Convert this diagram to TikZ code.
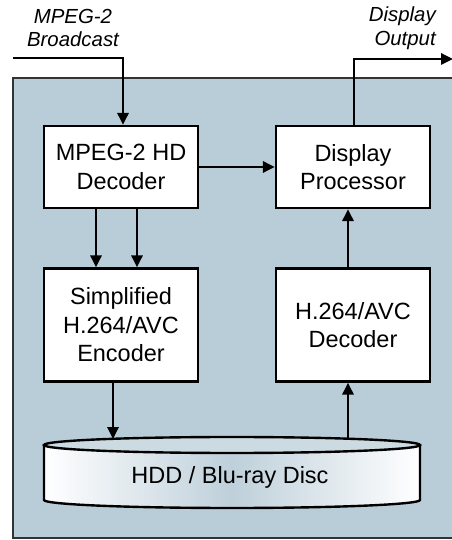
\documentclass[tikz,border=0pt]{standalone}
\usepackage{fontspec}
\setmainfont{Liberation Sans}
\usepackage{tikz}
\usetikzlibrary{positioning}
\usetikzlibrary{arrows.meta}
\usetikzlibrary{calc}
\definecolor{panelblue}{RGB}{185,205,216}
\definecolor{disctop}{RGB}{204,218,226}
\definecolor{discmid}{RGB}{190,208,218}
\tikzstyle{block}=[rectangle,draw=black,fill=white,line width=1.7pt,align=center,minimum width=3.85cm,inner sep=0pt,font=\fontsize{16.7}{20.3}\selectfont]
\tikzstyle{flow}=[draw,line width=1.7pt,-{Triangle[length=8.5pt,width=8pt]}]
\tikzstyle{tag}=[align=center,inner sep=0pt,font=\fontsize{14.5}{17}\selectfont\itshape]

\begin{document}
\begin{tikzpicture}[x=0.025cm,y=0.025cm]
    \useasboundingbox (0,0) rectangle (452,540);
    % the blue panel behind everything
    \fill[panelblue] (13,2) rectangle (452,462);
    \draw[line width=1pt,black!80] (453,462) -- (13,462) -- (13,2) -- (453,2);

    % First we draw the blocks
    \foreach \pos/\name/\text in {{(121,373)/mpeg/{MPEG-2 HD\\Decoder}}, {(353,373)/disp/{Display\\Processor}}}
        \node[block,minimum height=2.05cm] (\name) at \pos {\text};
    \foreach \pos/\name/\text in {{(121,215)/enc/{Simplified\\H.264/AVC\\Encoder}}, {(353,215)/dec/{H.264/AVC\\Decoder}}}
        \node[block,minimum height=2.825cm] (\name) at \pos {\text};

    % the disc, drawn by hand
    \shade[left color=white,right color=white,middle color=discmid]
        (44,95) -- (44,40) arc[start angle=180,end angle=360,x radius=188,y radius=8]
        -- (420,95) arc[start angle=0,end angle=180,x radius=188,y radius=8] -- cycle;
    \draw[line width=1.7pt]
        (44,95) -- (44,40) arc[start angle=180,end angle=360,x radius=188,y radius=8] -- (420,95);
    \filldraw[fill=disctop,line width=1.7pt] (232,95) ellipse[x radius=188,y radius=8];
    \node[inner sep=0pt,font=\fontsize{16.7}{20.3}\selectfont] (disc) at (230,63) {HDD / Blu-ray Disc};
    \coordinate (discin) at (113,101);
    \coordinate (discout) at (348,101);

    % outside labels
    \node[tag] (bcasttxt) at (73,512) {MPEG-2\\Broadcast};
    \node[tag,align=right,anchor=east] (outtxt) at (436,512) {Display\\Output};
    \coordinate (bcast) at (13,482);
    \coordinate (screen) at (453,481);

    % Connect blocks with arrows
    \draw[flow] (bcast) -| ($(mpeg.north)+(2,0)$);
    \draw[flow] ($(disp.north)+(1,0)$) |- (screen);
    \draw[flow] (mpeg.east) -- (disp.west);
    \foreach \dx in {-25,16}
        \draw[flow] ($(mpeg.south)+(\dx,0)$) -- ($(enc.north)+(\dx,0)$);
    \draw[flow] (enc.south -| discin) -- (discin);
    \draw[flow] (discout) -- (dec.south -| discout);
    \draw[flow] (dec.north -| discout) -- (disp.south -| discout);
\end{tikzpicture}
\end{document}
